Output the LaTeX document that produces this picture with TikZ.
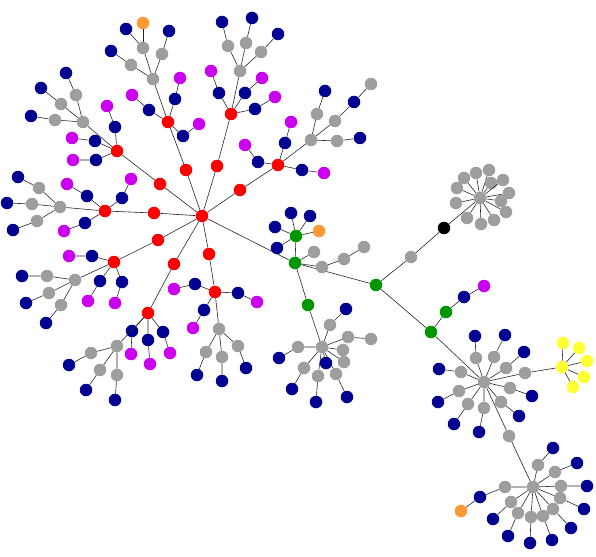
\documentclass[tikz,border=0pt]{standalone}
\definecolor{dotred}{RGB}{255,0,0}
\definecolor{dotnavy}{RGB}{0,0,145}
\definecolor{dotmag}{RGB}{204,0,240}
\definecolor{dotgray}{RGB}{158,158,158}
\definecolor{dotgreen}{RGB}{0,150,0}
\definecolor{dotorange}{RGB}{255,153,51}
\definecolor{dotyellow}{RGB}{255,255,51}
\begin{document}
\begin{tikzpicture}[x=1pt, y=-1pt,
    dot/.style={circle, inner sep=0pt, minimum size=12.5pt},
    rdot/.style={dot, fill=dotred},
    bdot/.style={dot, fill=dotnavy},
    mdot/.style={dot, fill=dotmag},
    gdot/.style={dot, fill=dotgray},
    grdot/.style={dot, fill=dotgreen},
    odot/.style={dot, fill=dotorange},
    ydot/.style={dot, fill=dotyellow},
    kdot/.style={dot, fill=black},
    link/.style={line width=0.6pt, black!85}]
    \useasboundingbox (0,0) rectangle (596,556);

    % Center and the red spokes
    \node[rdot] (ctr) at (202,216) {};
    \foreach \n/\x/\y in {r1/186/170, r2/160/184, r3/154/213, r4/158/240,
                          r5/174/264, r6/209/254, r7/217/166, r8/240/190} {
            \node[rdot] (\n) at (\x,\y) {};
            \draw[link] (ctr) -- (\n);
        }
    \foreach \n/\x/\y/\p in {R1/168/122/r1, R2/117/151/r2, R3/105/211/r3, R4/114/262/r4,
                             R5/148/313/r5, R6/215/292/r6, R7/231/114/r7, R8/278/165/r8} {
            \node[rdot] (\n) at (\x,\y) {};
            \draw[link] (\p) -- (\n);
        }

    % Navy + magenta pairs on the red nodes
    \foreach \p/\bx/\by/\mx/\my [count=\i] in {
            R1/175/99/180/78, R1/149/110/132/95, R1/183/136/199/124,
            R2/115/127/107/106, R2/95/141/72/138, R2/96/160/73/160,
            R3/87/196/67/184, R3/122/198/131/179, R3/85/223/64/231,
            R4/92/256/69/256, R4/100/281/88/301, R4/122/282/115/303,
            R5/132/331/131/354, R5/148/340/150/364, R5/163/332/170/353,
            R6/195/284/174/289, R6/238/293/257/302, R6/204/310/193/328,
            R7/219/93/211/71, R7/245/93/262/78, R7/255/109/275/97,
            R8/285/143/291/122, R8/258/162/245/145, R8/302/170/324/173} {
            \node[bdot] (b\i) at (\bx,\by) {};
            \node[mdot] (m\i) at (\mx,\my) {};
            \draw[link] (\p) -- (b\i) -- (m\i);
        }

    % Green branch
    \foreach \n/\x/\y/\p in {G1/295/263/ctr, G2/296/236/G1, G3/308/305/G1,
                             G4/376/285/G1, G5/431/332/G4, G6/446/312/G5} {
            \node[grdot] (\n) at (\x,\y) {};
            \draw[link] (\p) -- (\n);
        }

    % Gray hubs
    \foreach \n/\x/\y/\p in {A0/153/79/R1, B0/83/122/R2, C0/60/207/R3, D0/75/280/R4,
                             E0/117/346/R5, F0/219/329/R6, G0/240/71/R7, H0/311/140/R8,
                             P/322/347/G3, T/484/382/G5} {
            \node[gdot] (\n) at (\x,\y) {};
            \draw[link] (\p) -- (\n);
        }

    % Gray + navy pairs on the hubs
    \foreach \p/\gx/\gy/\bx/\by [count=\i] in {
            A0/143/48/126/29, A0/162/54/169/31, A0/131/65/111/51,
            B0/76/95/66/73, B0/61/104/41/88, B0/55/120/31/116,
            C0/39/188/18/177, C0/32/204/7/203, C0/37/221/13/230,
            D0/47/276/22/276, D0/49/293/26/303, D0/61/305/46/323,
            E0/91/353/69/365, E0/100/370/86/390, E0/117/375/115/400,
            F0/206/352/197/375, F0/222/357/222/381, F0/238/346/246/368,
            G0/228/46/222/22, G0/246/43/252/18, G0/261/52/278/34,
            H0/317/114/325/91, H0/335/121/354/102, H0/337/141/360/138,
            P/330/325/346/309, P/298/347/279/358, P/304/368/292/389,
            P/318/376/316/402, P/336/374/347/397,
            T/476/358/475/336, T/494/357/505/335, T/506/368/524/352,
            T/461/372/439/369, T/510/388/532/396, T/459/391/438/402,
            T/501/402/519/416, T/468/404/454/424, T/484/408/479/432} {
            \node[gdot] (g\i) at (\gx,\gy) {};
            \node[bdot] (n\i) at (\bx,\by) {};
            \draw[link] (\p) -- (g\i) -- (n\i);
        }
    \node[odot] (o1) at (143,23) {};
    \draw[link] (g1) -- (o1);
    \node[gdot] (h7) at (371,84) {};
    \draw[link] (n23) -- (h7);

    % Leaves around the green nodes
    \foreach \x/\y [count=\i] in {291/213, 310/216, 275/227, 277/248} {
            \node[bdot] (k\i) at (\x,\y) {};
            \draw[link] (G2) -- (k\i);
        }
    \node[odot] (o2) at (319,231) {};
    \draw[link] (G2) -- (o2);
    \node[gdot] (q0) at (314,252) {};
    \node[gdot] (q1) at (322,267) {};
    \node[gdot] (q2) at (344,259) {};
    \node[gdot] (q3) at (364,247) {};
    \draw[link] (G1) -- (q0);
    \draw[link] (G1) -- (q1) -- (q2) -- (q3);
    \node[bdot] (v1) at (464,297) {};
    \node[mdot] (v2) at (484,286) {};
    \draw[link] (G6) -- (v1) -- (v2);

    % Extra leaves on P
    \foreach \x/\y [count=\i] in {343/350, 344/362, 348/337} {
            \node[gdot] (p\i) at (\x,\y) {};
            \draw[link] (P) -- (p\i);
        }
    \node[gdot] (p4) at (371,339) {};
    \draw[link] (p3) -- (p4);
    \node[bdot] (p5) at (326,363) {};
    \draw[link] (P) -- (p5);

    % Gray star behind the black node
    \node[gdot] (w0) at (411,257) {};
    \node[kdot] (w1) at (444,228) {};
    \node[gdot] (S) at (480,198) {};
    \draw[link] (G4) -- (w0) -- (w1) -- (S);
    \foreach \x/\y [count=\i] in {489/170, 476/173, 464/178, 491/183, 503/180, 457/188, 509/193,
                                  456/203, 501/201, 506/212, 467/218, 481/224, 494/220} {
            \node[gdot] (s\i) at (\x,\y) {};
            \draw[link] (S) -- (s\i);
        }

    % Yellow star
    \node[gdot] (y0) at (525,373) {};
    \node[ydot] (Y) at (562,367) {};
    \draw[link] (T) -- (y0) -- (Y);
    \foreach \x/\y [count=\i] in {563/343, 579/348, 587/361, 584/377, 573/387} {
            \node[ydot] (y\i) at (\x,\y) {};
            \draw[link] (Y) -- (y\i);
        }

    % Lower hub
    \node[gdot] (u0) at (509,436) {};
    \node[gdot] (U) at (533,487) {};
    \draw[link] (T) -- (u0) -- (U);
    \foreach \gx/\gy/\bx/\by [count=\i] in {
            538/465/553/448, 555/472/577/463, 561/486/587/486, 560/498/584/509,
            553/509/571/528, 543/516/552/540, 531/517/530/543, 518/513/508/536,
            511/502/493/519, 505/487/480/497} {
            \node[gdot] (ug\i) at (\gx,\gy) {};
            \node[bdot] (ub\i) at (\bx,\by) {};
            \draw[link] (U) -- (ug\i) -- (ub\i);
        }
    \node[odot] (o3) at (461,511) {};
    \draw[link] (ub10) -- (o3);
\end{tikzpicture}
\end{document}
